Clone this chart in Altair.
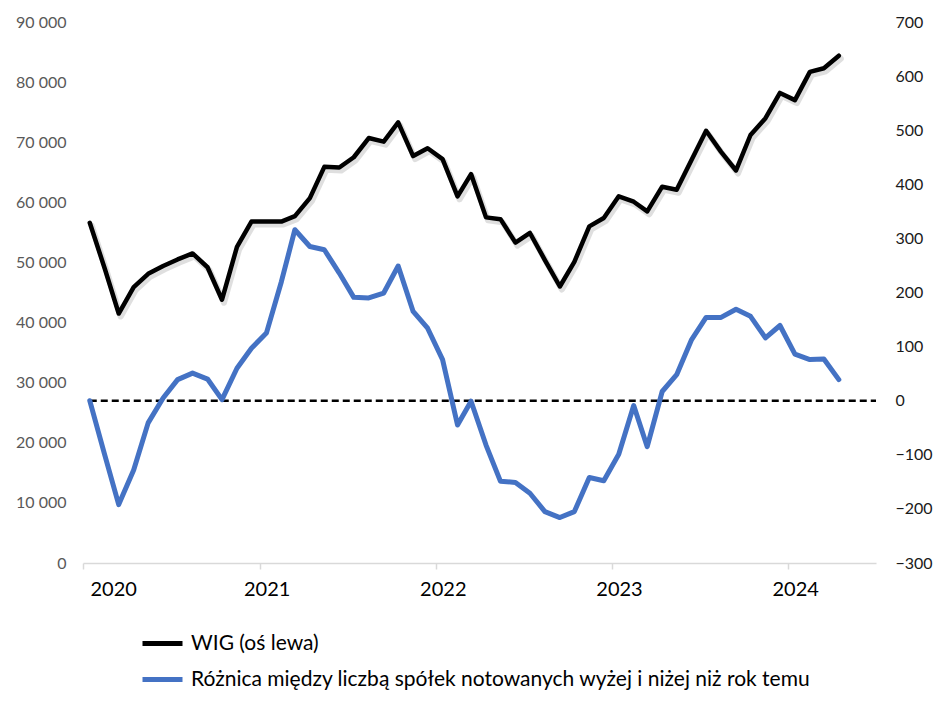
import altair as alt
import pandas as pd

# Monthly observations, Jan 2020 - Apr 2024 (placed mid-month)
months = [f"{2020 + i // 12}-{(i % 12) + 1:02d}-15T00:00:00" for i in range(52)]

wig = [56600, 49000, 41500, 45900, 48100, 49400, 50500, 51500, 49200, 43800,
       52600, 56800, 56800, 56800, 57700, 60700, 65900, 65800, 67500, 70700,
       70100, 73300, 67700, 69000, 67200, 61000, 64700, 57500, 57200, 53300,
       54900, 50400, 46000, 50100, 56000, 57400, 61000, 60100, 58500, 62600,
       62100, 67100, 71900, 68400, 65300, 71200, 74000, 78200, 77000, 81700,
       82300, 84400]

diff = [0, -100, -192, -128, -41, 5, 39, 51, 40, 2,
        60, 97, 125, 220, 316, 285, 279, 236, 191, 190,
        199, 249, 165, 134, 76, -45, -1, -82, -149, -151,
        -171, -205, -216, -205, -142, -148, -99, -9, -85, 17,
        48, 113, 154, 154, 169, 156, 116, 139, 86, 76,
        77, 39]

series_names = ["WIG (oś lewa)",
                "Różnica między liczbą spółek notowanych wyżej i niżej niż rok temu"]
series_colors = ["#000000", "#4472C4"]

left_ticks = list(range(0, 90001, 10000))
right_ticks = list(range(-300, 701, 100))
year_ticks = [2020, 2021, 2022, 2023, 2024]

FONT = "Lato"

df_wig = pd.DataFrame({"date": months, "value": wig, "series": series_names[0]})
df_diff = pd.DataFrame({"date": months, "value": diff, "series": series_names[1]})
df_zero = pd.DataFrame({"date": [months[0]], "date2": ["2024-07-01T00:00:00"], "value": [0]})

x_scale = alt.Scale(domain=[alt.DateTime(year=2020, month=1, date=1),
                            alt.DateTime(year=2024, month=7, date=1)])
x_enc = alt.X("date:T", scale=x_scale, title=None,
              axis=alt.Axis(values=[alt.DateTime(year=y, month=1, date=1) for y in year_ticks],
                            format="%Y", grid=False, labelFont=FONT, labelFontSize=20,
                            labelColor="#000000", labelOffset=7, labelPadding=10,
                            domainColor="#d9d9d9", domainWidth=1.5,
                            tickColor="#d9d9d9", tickWidth=1.5, tickSize=6))

color_enc = alt.Color("series:N",
                      scale=alt.Scale(domain=series_names, range=series_colors),
                      legend=alt.Legend(orient="none", legendX=57, legendY=599,
                                        direction="vertical", title=None,
                                        symbolType="stroke", symbolStrokeWidth=5,
                                        symbolSize=1600, labelFont=FONT,
                                        labelFontSize=21, labelColor="#000000",
                                        labelLimit=0, labelOffset=6, rowPadding=3))

y_left = alt.Y("value:Q", scale=alt.Scale(domain=[0, 90000], nice=False), title=None,
               axis=alt.Axis(orient="left", values=left_ticks, grid=False, domain=False,
                             ticks=False, labelFont=FONT, labelFontSize=16,
                             labelColor="#595959", labelPadding=17,
                             labelExpr="replace(format(datum.value, ',d'), ',', ' ')"))

y_right = alt.Y("value:Q", scale=alt.Scale(domain=[-300, 700], nice=False), title=None,
                axis=alt.Axis(orient="right", values=right_ticks, grid=False, domain=False,
                              ticks=False, labelFont=FONT, labelFontSize=16,
                              labelColor="#1a1a1a", labelPadding=19))

wig_shadow = alt.Chart(df_wig).mark_line(
    strokeWidth=6, opacity=0.25, color="#808080", xOffset=2, yOffset=3,
    strokeJoin="round", strokeCap="round"
).encode(x=x_enc, y=y_left)

wig_line = alt.Chart(df_wig).mark_line(
    strokeWidth=4.5, strokeJoin="round", strokeCap="round"
).encode(x=x_enc, y=y_left, color=color_enc)

diff_line = alt.Chart(df_diff).mark_line(
    strokeWidth=5, strokeJoin="round", strokeCap="round"
).encode(x=x_enc, y=y_right, color=color_enc)

zero_rule = alt.Chart(df_zero).mark_rule(
    color="#000000", strokeWidth=2.5, strokeDash=[7, 4]
).encode(x=x_enc, x2="date2:T", y=y_right)

left = alt.layer(wig_shadow, wig_line)
right = alt.layer(zero_rule, diff_line)

chart = alt.layer(left, right).resolve_scale(y="independent").properties(
    width=793, height=541,
    autosize=alt.AutoSizeParams(type="none"),
    padding={"left": 75, "top": 14, "right": 60, "bottom": 135},
    background="white",
).configure_view(stroke=None)

chart.save("out.html", embed_options={"renderer": "svg", "actions": False})
